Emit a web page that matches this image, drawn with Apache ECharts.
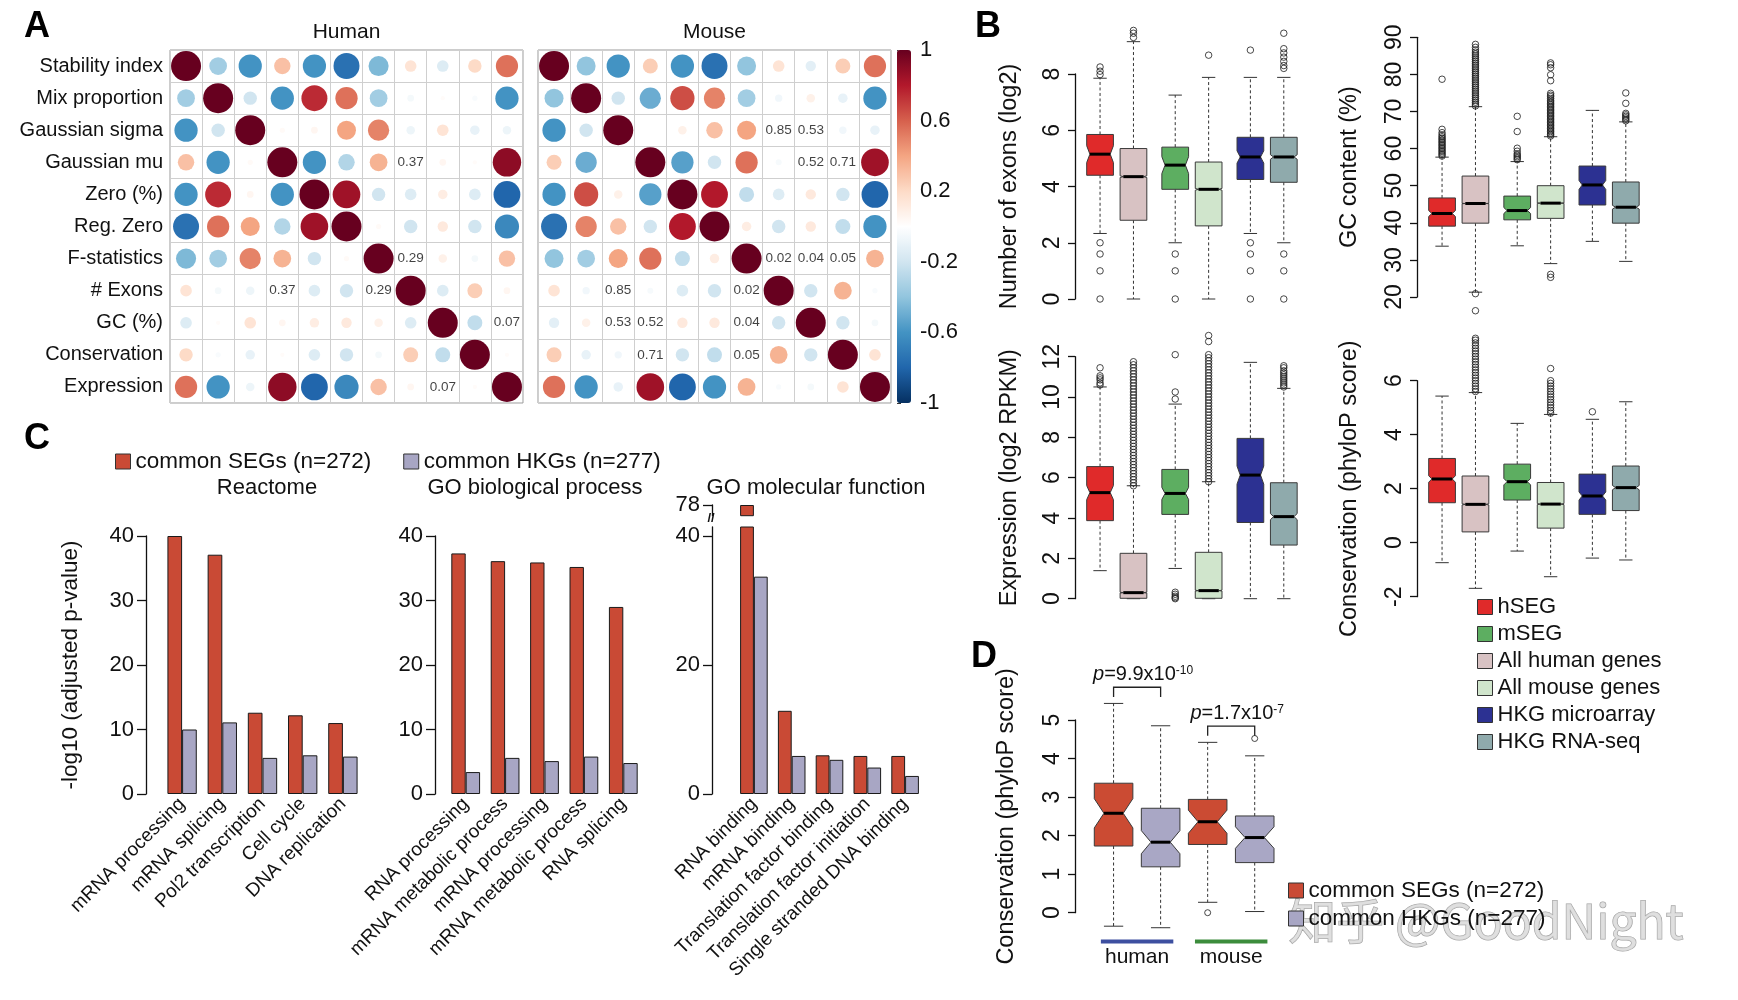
<!DOCTYPE html>
<html><head><meta charset="utf-8">
<script src="https://cdn.jsdelivr.net/npm/echarts@6/dist/echarts.min.js"></script>
<style>html,body{margin:0;padding:0;background:#fff}#c{width:1738px;height:1000px}</style>
</head><body><div id="c"></div>
<script>
// ---------------- DATA ----------------
const corrVars = ['Stability index','Mix proportion','Gaussian sigma','Gaussian mu','Zero (%)','Reg. Zero','F-statistics','# Exons','GC (%)','Conservation','Expression'];
const humanCorr = [
 [1, -0.35, -0.6, 0.3, -0.6, -0.75, -0.45, 0.15, -0.15, 0.2, 0.55],
 [-0.35, 1, -0.2, -0.6, 0.75, 0.55, -0.35, -0.05, 0.02, -0.03, -0.6],
 [-0.6, -0.2, 1, 0.03, 0.05, 0.4, 0.5, -0.08, 0.15, -0.1, -0.08],
 [0.3, -0.6, 0.03, 1, -0.6, -0.3, 0.35, null, 0.05, 0.02, 0.9],
 [-0.6, 0.75, 0.05, -0.6, 1, 0.85, -0.2, -0.15, 0.1, -0.15, -0.8],
 [-0.75, 0.55, 0.4, -0.3, 0.85, 1, 0.03, -0.2, 0.12, -0.2, -0.65],
 [-0.45, -0.35, 0.5, 0.35, -0.2, 0.03, 1, null, 0.08, -0.05, 0.3],
 [0.15, -0.05, -0.08, null, -0.15, -0.2, null, 1, -0.15, 0.25, 0.05],
 [-0.15, 0.02, 0.15, 0.05, 0.1, 0.12, 0.08, -0.15, 1, -0.25, null],
 [0.2, -0.03, -0.1, 0.02, -0.15, -0.2, -0.05, 0.25, -0.25, 1, 0.02],
 [0.55, -0.6, -0.08, 0.9, -0.8, -0.65, 0.3, 0.05, null, 0.02, 1]
];
const mouseCorr = [
 [1, -0.4, -0.6, 0.25, -0.6, -0.75, -0.4, 0.15, -0.12, 0.25, 0.55],
 [-0.4, 1, -0.2, -0.5, 0.65, 0.5, -0.35, -0.06, 0.08, -0.1, -0.6],
 [-0.6, -0.2, 1, 0, 0.08, 0.3, 0.4, null, null, -0.06, -0.1],
 [0.25, -0.5, 0, 1, -0.55, -0.2, 0.55, -0.04, null, null, 0.85],
 [-0.6, 0.65, 0.08, -0.55, 1, 0.8, -0.25, -0.15, 0.12, -0.2, -0.8],
 [-0.75, 0.5, 0.3, -0.2, 0.8, 1, 0.1, -0.2, 0.12, -0.25, -0.6],
 [-0.4, -0.35, 0.4, 0.55, -0.25, 0.1, 1, null, null, null, 0.35],
 [0.15, -0.06, null, -0.04, -0.15, -0.2, null, 1, -0.2, 0.35, -0.03],
 [-0.12, 0.08, null, null, 0.12, 0.12, null, -0.2, 1, -0.2, -0.05],
 [0.25, -0.1, -0.06, null, -0.2, -0.25, null, 0.35, -0.2, 1, 0.15],
 [0.55, -0.6, -0.1, 0.85, -0.8, -0.6, 0.35, -0.03, -0.05, 0.15, 1]
];
// [row, col, p-value text] for non-significant cells
const humanPvals = [[3,7,'0.37'],[6,7,'0.29'],[7,3,'0.37'],[7,6,'0.29'],[8,10,'0.07'],[10,8,'0.07']];
const mousePvals = [[2,7,'0.85'],[2,8,'0.53'],[3,8,'0.52'],[3,9,'0.71'],[6,7,'0.02'],[6,8,'0.04'],[6,9,'0.05'],
 [7,2,'0.85'],[7,6,'0.02'],[8,2,'0.53'],[8,3,'0.52'],[8,6,'0.04'],[9,3,'0.71'],[9,6,'0.05']];
const colorbarTicks = [-1, -0.6, -0.2, 0.2, 0.6, 1];

// Panel B: groups, positions; stats = [lowWhisker, Q1, median, Q3, highWhisker, notchHalfWidth]
const boxGroups = ['hSEG','All human genes','mSEG','All mouse genes','HKG microarray','HKG RNA-seq'];
const boxPos = [1, 2, 3.25, 4.25, 5.5, 6.5];
const exonsStats = [
 [2.33, 4.4, 5.15, 5.85, 7.85, 0.3],
 [0, 2.8, 4.35, 5.35, 9.15, 0.03],
 [2.0, 3.9, 4.76, 5.4, 7.25, 0.3],
 [0, 2.6, 3.9, 4.87, 7.88, 0.03],
 [2.33, 4.25, 5.05, 5.75, 7.88, 0.22],
 [2.0, 4.15, 5.05, 5.75, 7.88, 0.08]
];
const exonsOutliers = [
 [8.25, 8.1, 7.98, 2.0, 1.6, 1.0, 0],
 [9.3, 9.45, 9.55],
 [1.6, 1.0, 0],
 [8.67],
 [8.85, 2.0, 1.6, 1.0, 0],
 [8.2, 8.3, 8.45, 8.6, 8.75, 8.9, 9.45, 1.6, 1.0, 0]
];
const gcStats = [
 [33.7, 39.1, 42.5, 46.7, 57.7, 0.8],
 [21.3, 39.9, 45.2, 52.6, 71.3, 0.05],
 [33.8, 40.8, 43.3, 47.2, 56.5, 0.8],
 [29.0, 41.2, 45.3, 50.0, 63.2, 0.05],
 [35.0, 44.8, 50.2, 55.3, 70.3, 1.2],
 [29.6, 39.9, 44.2, 51.0, 67.2, 0.5]
];
const gcOutliers = [
 [58.0,58.4,58.8,59.2,59.6,60,60.4,60.8,61.2,61.6,62,62.4,62.8,63.2,63.7,64.3,65.2,78.7],
 [71.5,72,72.5,73,73.5,74,74.5,75,75.5,76,76.5,77,77.5,78,78.5,79,79.5,80,80.5,81,81.5,82,82.5,83,83.5,84,84.5,85,85.5,86,86.6,87.3,88.1,20.9,16.3],
 [57,57.4,57.8,58.2,58.6,59.3,60.1,64.6,68.7],
 [63.4,63.8,64.2,64.6,65,65.4,65.8,66.2,66.6,67,67.4,67.8,68.2,68.6,69,69.4,69.8,70.2,70.6,71,71.4,71.8,72.2,72.6,73,73.5,74,74.4,74.9,78.3,79.9,81.8,82.6,83.1,26.1,25.3],
 [],
 [67.5,67.9,68.3,68.7,69.1,69.5,72.2,75.0]
];
const exprStats = [
 [1.39, 3.87, 5.26, 6.55, 10.5, 0.35],
 [0, 0.02, 0.3, 2.25, 5.6, 0.02],
 [1.5, 4.18, 5.22, 6.41, 9.65, 0.3],
 [0, 0.02, 0.4, 2.3, 5.8, 0.02],
 [0, 3.78, 6.13, 7.95, 11.72, 0.45],
 [0, 2.66, 4.07, 5.75, 10.43, 0.15]
];
const exprOutliers = [
 [10.6,10.7,10.85,10.95,11.05,11.45],
 [5.6,5.75,5.9,6.05,6.2,6.35,6.5,6.65,6.8,6.95,7.1,7.25,7.4,7.55,7.7,7.85,8.0,8.15,8.3,8.45,8.6,8.75,8.9,9.05,9.2,9.35,9.5,9.65,9.8,9.95,10.1,10.25,10.4,10.55,10.7,10.85,11.0,11.15,11.3,11.45,11.6,11.75],
 [9.9,10.25,12.1,0.32,0.22,0.12,0.05,0],
 [5.8,5.95,6.1,6.25,6.4,6.55,6.7,6.85,7.0,7.15,7.3,7.45,7.6,7.75,7.9,8.05,8.2,8.35,8.5,8.65,8.8,8.95,9.1,9.25,9.4,9.55,9.7,9.85,10.0,10.15,10.3,10.45,10.6,10.75,10.9,11.05,11.2,11.35,11.5,11.65,11.8,11.95,12.1,12.75,13.05],
 [],
 [10.5,10.6,10.7,10.8,10.9,11.0,11.1,11.2,11.3,11.45,11.55]
];
const consStats = [
 [-0.74, 1.48, 2.36, 3.12, 5.43, 0.12],
 [-1.69, 0.4, 1.42, 2.47, 5.56, 0.02],
 [-0.31, 1.58, 2.26, 2.91, 4.42, 0.12],
 [-1.26, 0.54, 1.43, 2.23, 4.75, 0.02],
 [-0.57, 1.05, 1.73, 2.54, 4.57, 0.15],
 [-0.64, 1.19, 2.04, 2.84, 5.22, 0.08]
];
const consOutliers = [
 [],
 [5.6,5.7,5.8,5.9,6.0,6.1,6.2,6.3,6.4,6.5,6.6,6.7,6.8,6.9,7.0,7.1,7.2,7.3,7.4,7.5,7.57],
 [],
 [4.8,4.9,5.0,5.1,5.2,5.3,5.4,5.5,5.6,5.7,5.8,5.9,6.0,6.45],
 [4.85],
 []
];

// Panel C
const reactomeTerms = ['mRNA processing','mRNA splicing','Pol2 transcription','Cell cycle','DNA replication'];
const reactomeSEG = [40, 37.1, 12.6, 12.2, 11.0];
const reactomeHKG = [10.0, 11.1, 5.6, 6.0, 5.8];
const goBpTerms = ['RNA processing','mRNA metabolic process','mRNA processing','mRNA metabolic process','RNA splicing'];
const goBpSEG = [37.3, 36.1, 35.9, 35.2, 29.0];
const goBpHKG = [3.4, 5.6, 5.1, 5.8, 4.8];
const goMfTerms = ['RNA binding','mRNA binding','Translation factor binding','Translation factor initiation','Single stranded DNA binding'];
const goMfSEG = [78, 12.9, 6.0, 5.9, 5.9];
const goMfHKG = [33.7, 5.9, 5.3, 4.1, 2.8];

// Panel D
const dGroups = ['human','mouse'];
const dSEGPos = [1, 3];
const dSEGStats = [[-0.35, 1.73, 2.58, 3.36, 5.43, 0.38], [0.27, 1.77, 2.36, 2.94, 4.42, 0.3]];
const dHKGPos = [2, 4];
const dHKGStats = [[-0.39, 1.19, 1.83, 2.71, 4.85, 0.3], [0.03, 1.3, 1.95, 2.51, 4.07, 0.28]];
const dOutlierPos = [3, 4];
const dOutlierVal = [0.0, 4.52];
const dPvalues = [['9.9','-10'], ['1.7','-7']];

// ---------------- STYLE / LAYOUT ----------------
const F = "'Liberation Sans', Arial, Helvetica, sans-serif";
const FN = "'Liberation Sans Narrow', 'Liberation Sans', Arial, sans-serif";
const boxColors = ['#E02A2A','#D8C2C3','#5DAE61','#D0E5CC','#2C3192','#8FAAAC'];
const segColor = '#C94A35', hkgColor = '#A8A6C4';
const rdbu = ['#053061','#2166AC','#4393C3','#92C5DE','#D1E5F0','#FFFFFF','#FDDBC7','#F4A582','#D6604D','#B2182B','#67001F'];

function boxRenderer(boxW, notchFrac) {
  return function (params, api) {
    const x = api.value(0);
    const lo = api.value(1), q1 = api.value(2), md = api.value(3), q3 = api.value(4), hi = api.value(5), nh = api.value(6);
    const unit = api.size([1, 0])[0];
    const hw = unit * boxW / 2, nw = hw * notchFrac, cap = hw / 2;
    const Y = v => api.coord([x, v])[1];
    const cx = api.coord([x, md])[0];
    const yl = Y(lo), y1 = Y(q1), ym = Y(md), y3 = Y(q3), yh = Y(hi), ynl = Y(md - nh), ynh = Y(md + nh);
    const color = api.visual('color');
    const dash = {stroke: '#333', lineWidth: 1, lineDash: [3, 2.5], fill: null};
    const solid = {stroke: '#333', lineWidth: 1, fill: null};
    return {type: 'group', children: [
      {type: 'line', shape: {x1: cx, y1: y3, x2: cx, y2: yh}, style: dash},
      {type: 'line', shape: {x1: cx, y1: y1, x2: cx, y2: yl}, style: dash},
      {type: 'line', shape: {x1: cx - cap, y1: yh, x2: cx + cap, y2: yh}, style: solid},
      {type: 'line', shape: {x1: cx - cap, y1: yl, x2: cx + cap, y2: yl}, style: solid},
      {type: 'polygon', shape: {points: [[cx-hw,y3],[cx+hw,y3],[cx+hw,ynh],[cx+nw,ym],[cx+hw,ynl],[cx+hw,y1],[cx-hw,y1],[cx-hw,ynl],[cx-nw,ym],[cx-hw,ynh]]},
        style: {fill: color, stroke: '#3a3a3a', lineWidth: 1}},
      {type: 'line', shape: {x1: cx - nw, y1: ym, x2: cx + nw, y2: ym}, style: {stroke: '#000', lineWidth: 3}}
    ]};
  };
}

function catX(grid) {
  return {type: 'category', gridIndex: grid, data: corrVars, axisLabel: {show: false}, axisTick: {show: false}, axisLine: {show: false},
    splitLine: {show: true, interval: 0, lineStyle: {color: '#cfcfcf', width: 1}}};
}
function catY(grid, showLabel) {
  return {type: 'category', gridIndex: grid, data: corrVars, inverse: true,
    axisLabel: {show: showLabel, fontFamily: FN, fontSize: 20, color: '#111', margin: 7, interval: 0},
    axisTick: {show: false}, axisLine: {show: false},
    splitLine: {show: true, interval: 0, lineStyle: {color: '#cfcfcf', width: 1}}};
}
function hiddenX(grid, min, max) {
  return {type: 'value', gridIndex: grid, min: min, max: max, show: false};
}
function boxY(grid, min, max, interval, name, gap) {
  return {type: 'value', gridIndex: grid, min: min, max: max, interval: interval, name: name,
    nameLocation: 'middle', nameGap: gap, nameRotate: 90, nameTextStyle: {fontSize: 23.5, color: '#111', fontFamily: F},
    axisLine: {show: true, lineStyle: {color: '#111', width: 1.3}},
    axisTick: {show: true, length: 7, lineStyle: {color: '#111', width: 1.3}},
    axisLabel: {rotate: 90, fontSize: 23, color: '#111', margin: 11},
    splitLine: {show: false}};
}
function barX(grid, terms) {
  return {type: 'category', gridIndex: grid, data: terms, axisLine: {show: false}, axisTick: {show: false},
    axisLabel: {rotate: 45, interval: 0, fontSize: 19, color: '#111', margin: 7}};
}
function barY(grid, min, max, extra) {
  return Object.assign({type: 'value', gridIndex: grid, min: min, max: max,
    axisLine: {show: true, lineStyle: {color: '#111', width: 1.3}},
    axisTick: {show: true, length: 9, lineStyle: {color: '#111', width: 1.3}},
    axisLabel: {fontSize: 22, color: '#111', margin: 12},
    splitLine: {show: false}}, extra || {});
}

const grids = [
  {left: 170, top: 50, width: 353, height: 353, show: true, borderColor: '#9a9a9a', borderWidth: 1},   //0 human
  {left: 538, top: 50, width: 353, height: 353, show: true, borderColor: '#9a9a9a', borderWidth: 1},   //1 mouse
  {left: 897, top: 50, width: 14, height: 353},   //2 colorbar axis
  {left: 1075, top: 74, width: 225.5, height: 225},  //3 B exons
  {left: 1417, top: 37.3, width: 225.5, height: 259.7}, //4 B GC
  {left: 1075, top: 356.7, width: 225.5, height: 242}, //5 B expression
  {left: 1417, top: 380.7, width: 225.5, height: 216}, //6 B conservation
  {left: 162, top: 536, width: 201, height: 258},   //7 C reactome
  {left: 446, top: 536, width: 197, height: 258},   //8 C GO BP
  {left: 735, top: 527, width: 189, height: 267},   //9 C GO MF main
  {left: 735, top: 505, width: 189, height: 10.7},  //10 C GO MF top
  {left: 1075, top: 720, width: 207, height: 192.7} //11 D
];

const xAxes = [
  catX(0), catX(1), hiddenX(2, 0, 1),
  hiddenX(3, 0.25, 7.0), hiddenX(4, 0.25, 7.0), hiddenX(5, 0.25, 7.0), hiddenX(6, 0.25, 7.0),
  barX(7, reactomeTerms), barX(8, goBpTerms), barX(9, goMfTerms),
  Object.assign(barX(10, goMfTerms), {show: false}),
  hiddenX(11, 0.18, 4.58)
];
const yAxes = [
  catY(0, true), catY(1, false),
  {type: 'value', gridIndex: 2, min: -1, max: 1, position: 'right', axisLine: {show: false},
    axisTick: {show: true, length: 4, customValues: colorbarTicks, lineStyle: {color: '#333'}},
    axisLabel: {fontSize: 22, color: '#111', margin: 9, customValues: colorbarTicks, formatter: v => String(+(+v).toFixed(1))},
    splitLine: {show: false}},
  boxY(3, 0, 8, 2, 'Number of exons (log2)', 53),
  boxY(4, 20, 90, 10, 'GC content (%)', 55),
  boxY(5, 0, 12, 2, 'Expression (log2 RPKM)', 53),
  boxY(6, -2, 6, 2, 'Conservation (phyloP score)', 55),
  barY(7, 0, 40, {interval: 10, offset: 16, name: '-log10 (adjusted p-value)', nameLocation: 'middle', nameGap: 64, nameRotate: 90,
    nameTextStyle: {fontSize: 22.5, color: '#111'}}),
  barY(8, 0, 40, {interval: 10, offset: 11}),
  barY(9, 0, 41.4, {offset: 23, axisTick: {show: true, length: 9, customValues: [0, 20, 40], lineStyle: {color: '#111', width: 1.3}},
    axisLabel: {fontSize: 22, color: '#111', margin: 12, customValues: [0, 20, 40]}}),
  barY(10, 76.3, 78, {offset: 23, axisTick: {show: true, length: 9, customValues: [78], lineStyle: {color: '#111', width: 1.3}},
    axisLabel: {fontSize: 22, color: '#111', margin: 12, customValues: [78]}}),
  boxY(11, 0, 5, 1, 'Conservation (phyloP score)', 56)
];

const series = [];
function corrData(mat) {
  const d = [];
  mat.forEach((row, i) => row.forEach((r, j) => { if (r !== null) d.push([j, i, r]); }));
  return d;
}
function pData(list) { return list.map(p => ({value: [p[1], p[0]], name: p[2]})); }
[[humanCorr, 0], [mouseCorr, 1]].forEach(([m, g]) => {
  series.push({type: 'scatter', xAxisIndex: g, yAxisIndex: g, data: corrData(m), silent: true,
    symbolSize: v => 30 * Math.sqrt(Math.abs(v[2])), itemStyle: {opacity: 1}});
});
[[humanPvals, 0], [mousePvals, 1]].forEach(([p, g]) => {
  series.push({type: 'scatter', xAxisIndex: g, yAxisIndex: g, data: pData(p), symbolSize: 0, silent: true,
    label: {show: true, position: 'inside', formatter: q => q.name, fontFamily: FN, fontSize: 13.5, color: '#111'}});
});

[[3, exonsStats, exonsOutliers], [4, gcStats, gcOutliers], [5, exprStats, exprOutliers], [6, consStats, consOutliers]].forEach(([g, st, out]) => {
  st.forEach((s, i) => {
    series.push({type: 'custom', name: boxGroups[i], xAxisIndex: g, yAxisIndex: g, silent: true, z: 2,
      itemStyle: {color: boxColors[i]}, renderItem: boxRenderer(0.8, 0.76), data: [[boxPos[i]].concat(s)]});
  });
  const od = [];
  out.forEach((o, i) => o.forEach(v => od.push([boxPos[i], v])));
  series.push({type: 'scatter', xAxisIndex: g, yAxisIndex: g, data: od, symbol: 'circle', symbolSize: 6.5, clip: false, silent: true, z: 3,
    itemStyle: {color: 'rgba(0,0,0,0)', borderColor: '#1a1a1a', borderWidth: 1}});
});

const barStyle = c => ({color: c, borderColor: '#1a1a1a', borderWidth: 1});
[[7, reactomeSEG, reactomeHKG], [8, goBpSEG, goBpHKG], [9, goMfSEG, goMfHKG]].forEach(([g, a, b]) => {
  series.push({type: 'bar', name: 'common SEGs (n=272)', xAxisIndex: g, yAxisIndex: g, data: a, barGap: '0%', barCategoryGap: '27%', itemStyle: barStyle(segColor), silent: true});
  series.push({type: 'bar', name: 'common HKGs (n=277)', xAxisIndex: g, yAxisIndex: g, data: b, barGap: '0%', barCategoryGap: '27%', itemStyle: barStyle(hkgColor), silent: true});
});
series.push({type: 'bar', name: 'common SEGs (n=272)', xAxisIndex: 10, yAxisIndex: 10, data: goMfSEG.map(v => v > 76.3 ? v : '-'), barGap: '0%', barCategoryGap: '27%', itemStyle: barStyle(segColor), silent: true});
series.push({type: 'bar', name: 'common HKGs (n=277)', xAxisIndex: 10, yAxisIndex: 10, data: goMfHKG.map(v => v > 76.3 ? v : '-'), barGap: '0%', barCategoryGap: '27%', itemStyle: barStyle(hkgColor), silent: true});

// Panel D boxes
series.push({type: 'custom', name: 'common SEGs (n=272)', xAxisIndex: 11, yAxisIndex: 11, silent: true, z: 2, itemStyle: {color: '#CB4B33'},
  renderItem: boxRenderer(0.82, 0.5), data: dSEGStats.map((s, i) => [dSEGPos[i]].concat(s))});
series.push({type: 'custom', name: 'common HKGs (n=277)', xAxisIndex: 11, yAxisIndex: 11, silent: true, z: 2, itemStyle: {color: '#A9A7C5'},
  renderItem: boxRenderer(0.82, 0.5), data: dHKGStats.map((s, i) => [dHKGPos[i]].concat(s))});
series.push({type: 'scatter', xAxisIndex: 11, yAxisIndex: 11, data: dOutlierPos.map((p, i) => [p, dOutlierVal[i]]), symbol: 'circle', symbolSize: 6, clip: false, silent: true,
  itemStyle: {color: 'rgba(0,0,0,0)', borderColor: '#1a1a1a', borderWidth: 1}});
// p-value brackets (heights derived from whisker tops)
const bracketData = dGroups.map((g, i) => {
  const top = Math.max(dSEGStats[i][4], dHKGStats[i][4]) + 0.42;
  return [dSEGPos[i], dHKGPos[i], top];
});
series.push({type: 'custom', xAxisIndex: 11, yAxisIndex: 11, silent: true, data: bracketData,
  renderItem: (params, api) => {
    const x1 = api.value(0), x2 = api.value(1), t = api.value(2);
    const a = api.coord([x1, t]), b = api.coord([x2, t]);
    const yb = api.coord([x1, t - 0.25])[1];
    const lab = api.coord([(x1 + x2) / 2, t + 0.33]);
    const pv = dPvalues[params.dataIndex];
    return {type: 'group', children: [
      {type: 'polyline', shape: {points: [[a[0], yb], [a[0], a[1]], [b[0], b[1]], [b[0], yb]]}, style: {stroke: '#222', lineWidth: 1.3, fill: null}},
      {type: 'text', x: lab[0] + 6, y: lab[1], style: {text: '{i|p}{n|=' + pv[0] + 'x10}{s|' + pv[1] + '}',
        align: 'center', verticalAlign: 'middle', textAlign: 'center', textVerticalAlign: 'middle', fill: '#111',
        rich: {i: {fontStyle: 'italic', fontSize: 20, fontFamily: F}, n: {fontSize: 20, fontFamily: F}, s: {fontSize: 12, fontFamily: F, verticalAlign: 'top'}}}}
    ]};
  }});
// human / mouse group labels
series.push({type: 'custom', xAxisIndex: 11, yAxisIndex: 11, silent: true, data: dGroups.map((g, i) => [dSEGPos[i], dHKGPos[i]]),
  renderItem: (params, api) => {
    const x1 = api.value(0), x2 = api.value(1);
    const a = api.coord([x1 - 0.27, -0.75]), b = api.coord([x2 + 0.27, -0.75]);
    const lab = api.coord([(x1 + x2) / 2, -1.15]);
    const col = params.dataIndex === 0 ? '#3D4FA0' : '#3C8C3C';
    return {type: 'group', children: [
      {type: 'line', shape: {x1: a[0], y1: a[1], x2: b[0], y2: b[1]}, style: {stroke: col, lineWidth: 4}},
      {type: 'text', x: lab[0], y: lab[1], style: {text: dGroups[params.dataIndex], fontSize: 21, fontFamily: F, fill: '#111',
        align: 'center', verticalAlign: 'middle', textAlign: 'center', textVerticalAlign: 'middle'}}
    ]};
  }});

function T(x, y, text, size, extra) {
  return {type: 'text', x: x, y: y, silent: true,
    style: Object.assign({text: text, fontSize: size, fontFamily: F, fill: '#111', align: 'center', verticalAlign: 'middle',
      textAlign: 'center', textVerticalAlign: 'middle'}, extra || {})};
}
const graphic = [
  T(37, 27, 'A', 36, {fontWeight: 'bold', fill: '#000'}),
  T(988, 27, 'B', 36, {fontWeight: 'bold', fill: '#000'}),
  T(37, 439, 'C', 36, {fontWeight: 'bold', fill: '#000'}),
  T(984, 657, 'D', 36, {fontWeight: 'bold', fill: '#000'}),
  T(346.5, 32, 'Human', 21),
  T(714.5, 32, 'Mouse', 21),
  T(267, 488, 'Reactome', 22),
  T(535, 488, 'GO biological process', 22),
  T(816, 488, 'GO molecular function', 22),
  T(711, 518, '//', 13, {fontWeight: 'bold'}),
  T(1486, 921, '知乎 @GoodNight', 48, {fontFamily: "'Noto Sans CJK SC', sans-serif", fill: 'rgba(215,215,215,0.8)', stroke: '#a0a0a0', lineWidth: 1})
];

const option = {
  animation: false,
  backgroundColor: '#fff',
  textStyle: {fontFamily: F, color: '#111'},
  grid: grids, xAxis: xAxes, yAxis: yAxes,
  visualMap: [{type: 'continuous', min: -1, max: 1, seriesIndex: [0, 1], dimension: 2, calculable: false, hoverLink: false,
    inRange: {color: rdbu}, left: 897, top: 50, itemWidth: 14, itemHeight: 353, padding: 0, orient: 'vertical', text: null, show: true}],
  legend: [
    {data: ['hSEG','mSEG','All human genes','All mouse genes','HKG microarray','HKG RNA-seq'], orient: 'vertical', left: 1477, top: 596,
      itemWidth: 15, itemHeight: 15, itemGap: 5, icon: 'rect', selectedMode: false, padding: 0,
      itemStyle: {borderColor: '#333', borderWidth: 1}, textStyle: {fontSize: 22, color: '#111', fontFamily: F}},
    {data: ['common SEGs (n=272)', 'common HKGs (n=277)'], orient: 'horizontal', left: 115, top: 450,
      itemWidth: 15, itemHeight: 15, itemGap: 32, icon: 'rect', selectedMode: false, padding: 0,
      itemStyle: {borderColor: '#333', borderWidth: 1}, textStyle: {fontSize: 22.5, color: '#111', fontFamily: F}},
    {data: ['common SEGs (n=272)', 'common HKGs (n=277)'], orient: 'vertical', left: 1288, top: 879,
      itemWidth: 15, itemHeight: 15, itemGap: 5, icon: 'rect', selectedMode: false, padding: 0,
      itemStyle: {borderColor: '#333', borderWidth: 1}, textStyle: {fontSize: 22.5, color: '#111', fontFamily: F}}
  ],
  series: series,
  graphic: graphic
};
const chart = echarts.init(document.getElementById('c'));
chart.setOption(option);
</script>
</body></html>
